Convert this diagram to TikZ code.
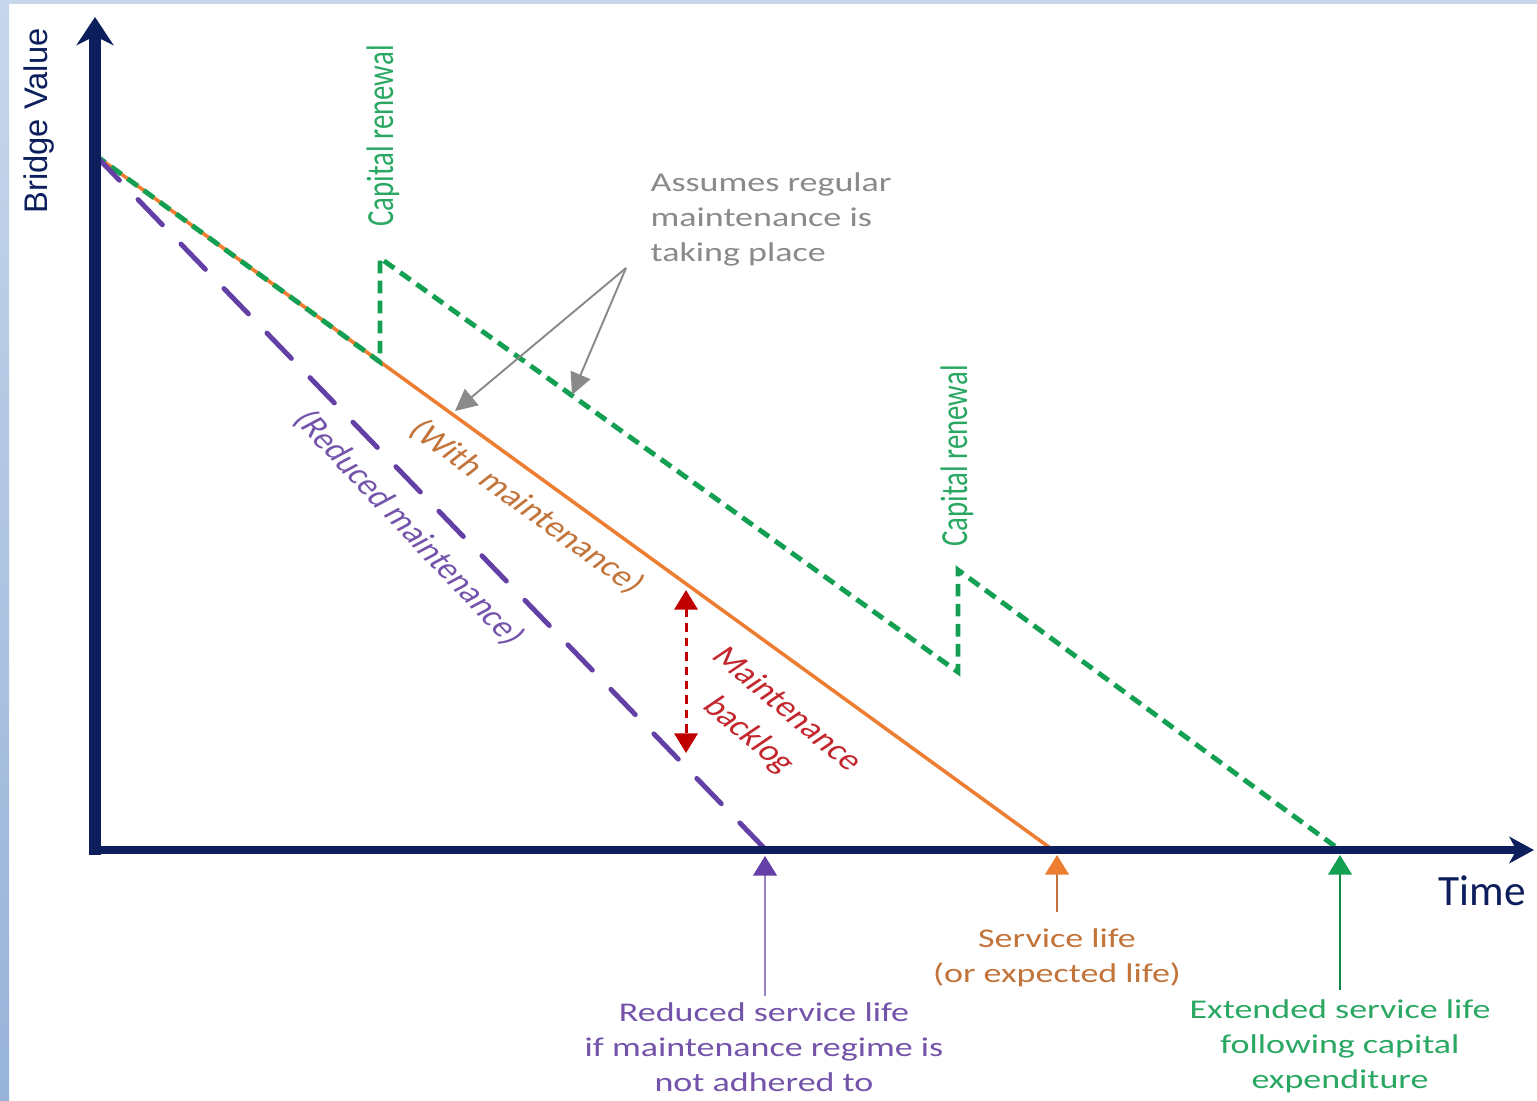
\documentclass[tikz,border=0pt]{standalone}
\usepackage{fontspec}
\usepackage{graphicx}
\setmainfont{Carlito}
\newfontfamily\widefont[FakeStretch=1.33]{Carlito}
\newfontfamily\arialfont{Liberation Sans}
\usetikzlibrary{arrows.meta}

\definecolor{navy}{HTML}{0C1E5B}
\definecolor{orangeline}{HTML}{ED7D31}
\definecolor{orangetext}{HTML}{C2743A}
\definecolor{greenline}{HTML}{14A052}
\definecolor{greentext}{HTML}{2AA863}
\definecolor{purpleline}{HTML}{6440A6}
\definecolor{purpletext}{HTML}{7454AA}
\definecolor{purplethin}{HTML}{9A80C4}
\definecolor{backlogred}{HTML}{C00000}
\definecolor{backlogtext}{HTML}{C3262D}
\definecolor{notegray}{HTML}{8A8A8A}
\definecolor{framelight}{HTML}{C8D6EB}
\definecolor{framedark}{HTML}{97B3D8}

% text stretched sideways after rotation
\newcommand{\slantlabel}[2]{\scalebox{1.33}[1]{\rotatebox{#1}{#2}}}

\begin{document}
\begin{tikzpicture}[x=0.01cm,y=-0.01cm,
  lbl/.style={inner sep=0pt, align=center, font=\widefont\fontsize{7.7pt}{9.96pt}\selectfont},
  rotlbl/.style={inner sep=0pt, font=\fontsize{8.2pt}{10pt}\selectfont},
  axis/.style={navy},
  withmaint/.style={orangeline, line width=1pt},
  renewal/.style={greenline, line width=1.4pt, dash pattern=on 3.6pt off 2.1pt},
  reduced/.style={purpleline, line width=1.4pt, line cap=round, dash pattern=on 10pt off 7.6pt},
  pointer/.style={line width=0.45pt, -{Triangle[length=5.6pt,width=6.8pt]}},
  backlog/.style={backlogred, line width=0.85pt, dash pattern=on 2.4pt off 1.7pt,
    {Triangle[length=5.6pt,width=6.6pt]}-{Triangle[length=5.6pt,width=6.6pt]}},
  note/.style={notegray, line width=0.55pt, -{Triangle[length=6.2pt,width=6pt]}}]

% page and frame
\useasboundingbox (0,0) rectangle (1537,1100);
\fill[white] (0,0) rectangle (1537,1100);
\fill[framelight] (0,0) rectangle (1537,4);
\shade[top color=framelight, bottom color=framedark] (0,0) rectangle (9,1100);

% key points of the curves
\coordinate (S)  at (95,155);
\coordinate (E1) at (1053,850);
\coordinate (G1) at (380,362);
\coordinate (G2) at (380,258);
\coordinate (G3) at (958,672);
\coordinate (G4) at (958,570);
\coordinate (G5) at (1340,850);
\coordinate (P1) at (766,850);

% value curves
\draw[withmaint] (S) -- (E1);
\draw[renewal] (S) -- (G1) -- (G2) -- (G3) -- (G4) -- (G5);
\draw[reduced] (S) -- (P1);

% axes
\coordinate (Ybot) at (95,855);
\coordinate (Ytip) at (95,17);
\coordinate (Xl)   at (91,850);
\coordinate (Xtip) at (1534,850);
\draw[axis, line width=3.6pt, -{Stealth[length=8pt,width=10.5pt,inset=2.6pt]}] (Ybot) -- (Ytip);
\draw[axis, line width=2.2pt, -{Stealth[length=7pt,width=7.5pt,inset=2pt]}] (Xl) -- (Xtip);

\node[rotlbl, font=\arialfont\fontsize{9.3pt}{11pt}\selectfont, text=navy] (yl) at (39,121) {\rotatebox{90}{Bridge Value}};
\node[inner sep=0pt, font=\fontsize{12.3pt}{14pt}\selectfont, text=navy] (xl) at (1482,891) {Time};

% capital renewal markers
\node[rotlbl, text=greentext] (cr1) at (383,136) {\slantlabel{90}{Capital renewal}};
\node[rotlbl, text=greentext] (cr2) at (957,456) {\slantlabel{90}{Capital renewal}};

% curve labels
\node[rotlbl, text=orangetext] (wm) at (527,507) {\slantlabel{-44}{(With maintenance)}};
\node[rotlbl, text=purpletext] (rm) at (409,528) {\slantlabel{-54.6}{(Reduced maintenance)}};
\node[rotlbl, text=backlogtext] (mb) at (767,723)
  {\slantlabel{-48}{\begin{tabular}{@{}c@{}}Maintenance\\[1pt]backlog\end{tabular}}};

% maintenance backlog span
\coordinate (r1) at (686,590);
\coordinate (r2) at (686,753);
\draw[backlog] (r1) -- (r2);

% note on regular maintenance
\node[lbl, align=left, anchor=west, text=notegray] (asm) at (650,219.5)
  {Assumes regular\\maintenance is\\taking place};
\coordinate (ga) at (626,268);
\coordinate (gw) at (455,411);
\coordinate (gg) at (572,395);
\draw[note] (ga) -- (gw);
\draw[note] (ga) -- (gg);

% end-of-life pointers
\coordinate (pb) at (765,996);
\coordinate (pt) at (765,856);
\coordinate (ob) at (1057,912);
\coordinate (ot) at (1057,855);
\coordinate (gb) at (1340,990);
\coordinate (gt) at (1340,855);
\draw[pointer, purplethin, -{Triangle[length=5.6pt,width=6.8pt,color=purpleline]}] (pb) -- (pt);
\draw[pointer, orangetext, -{Triangle[length=5.6pt,width=6.8pt,color=orangeline]}] (ob) -- (ot);
\draw[pointer, greenline!85!black, -{Triangle[length=5.6pt,width=6.8pt,color=greenline]}] (gb) -- (gt);

\node[lbl, text=orangetext] (sl) at (1057,958) {Service life\\(or expected life)};
\node[lbl, text=purpletext] (rs) at (764,1047.5) {Reduced service life\\if maintenance regime is\\not adhered to};
\node[lbl, text=greentext] (es) at (1340,1046) {Extended service life\\following capital\\expenditure};
\end{tikzpicture}
\end{document}
